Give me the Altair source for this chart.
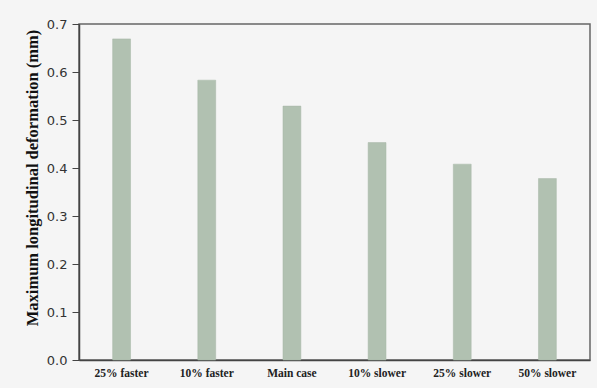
import altair as alt
import pandas as pd

categories = ["25% faster", "10% faster", "Main case", "10% slower", "25% slower", "50% slower"]
values = [0.669, 0.583, 0.529, 0.453, 0.408, 0.378]

df = pd.DataFrame({"case": categories, "deformation": values})

chart = alt.Chart(df).mark_bar(color="#b1c1b1", stroke="#a7b7a7", strokeWidth=0.5).encode(
    x=alt.X("case:N", sort=categories, title=None,
            scale=alt.Scale(paddingInner=0.79, paddingOuter=0.395),
            axis=alt.Axis(labelAngle=0, labelFont="Liberation Serif", labelFontWeight="bold",
                          labelFontSize=11.5, labelColor="#222", ticks=False, labelPadding=7,
                          domainColor="#444", domainWidth=1.5)),
    y=alt.Y("deformation:Q", title="Maximum longitudinal deformation (mm)",
            scale=alt.Scale(domain=[0, 0.7], nice=False),
            axis=alt.Axis(values=[0, 0.1, 0.2, 0.3, 0.4, 0.5, 0.6, 0.7], format=".1f",
                          grid=False, labelFont="DejaVu Sans", labelFontSize=13,
                          labelColor="#333", tickColor="#444", tickSize=7, labelPadding=5,
                          domainColor="#444", domainWidth=1.5,
                          titleFont="Liberation Serif", titleFontWeight="bold", titleFontSize=16.5,
                          titleColor="#111", titleX=-47, titleY=153.5, titleBaseline="middle",
                          titleAngle=-90)),
).properties(
    width=511, height=336,
    padding={"left": 79, "top": 24, "right": 7, "bottom": 28},
    autosize=alt.AutoSizeParams(type="none"),
    background="#f5f5f5",
).configure_view(stroke="#666", strokeWidth=1.5)

chart.save("out.html", embed_options={"renderer": "svg", "actions": False})
